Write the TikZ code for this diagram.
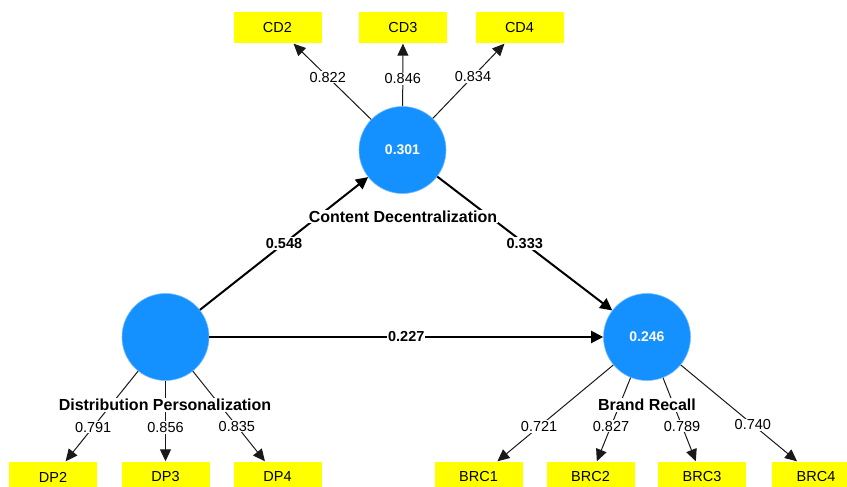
\documentclass[tikz,border=0pt]{standalone}
\usepackage{fontspec}
\setmainfont{Liberation Sans}
\usetikzlibrary{arrows.meta}
\definecolor{lvblue}{RGB}{20,144,255}
\definecolor{mvyellow}{RGB}{255,255,0}
\begin{document}
\begin{tikzpicture}[x=1pt,y=-1pt,
 lv/.style={circle,fill=lvblue,draw=lvblue!60,line width=0.6pt,minimum size=87pt,inner sep=0pt,text=white,font=\fontsize{14}{16}\selectfont\bfseries},
 mv/.style={rectangle,fill=mvyellow,minimum width=88pt,minimum height=31pt,inner sep=0pt,text=black,font=\fontsize{14.5}{16}\selectfont},
 load/.style={line width=1pt,draw=black!90,-{Triangle[length=12pt,width=11pt]}},
 pathe/.style={line width=2pt,-{Triangle[length=12pt,width=12pt]}},
 lval/.style={fill=white,inner sep=1pt,text=black,font=\fontsize{14.5}{16}\selectfont},
 pval/.style={fill=white,inner sep=1pt,text=black,font=\fontsize{14.5}{16}\selectfont\bfseries},
 lvname/.style={fill=white,inner sep=1pt,text=black,font=\fontsize{16}{18}\selectfont\bfseries}]
\useasboundingbox (0,0) rectangle (847,487);
\clip (0,0) rectangle (847,487);
\node[lv] (cd) at (402.5,150) {0.301};
\node[lv] (dp) at (165.5,337) {};
\node[lv] (brc) at (647,337) {0.246};
\node[mv] (cd2) at (277.5,28) {CD2};
\node[mv] (cd3) at (403,28) {CD3};
\node[mv] (cd4) at (519.5,28) {CD4};
\node[mv] (dp2) at (53,477) {DP2};
\node[mv] (dp3) at (165.5,477) {DP3};
\node[mv] (dp4) at (277.5,477) {DP4};
\node[mv] (brc1) at (478.5,477) {BRC1};
\node[mv] (brc2) at (590.5,477) {BRC2};
\node[mv] (brc3) at (702,477) {BRC3};
\node[mv] (brc4) at (816,477) {BRC4};
\draw[load] (cd) -- node[lval,pos=0.56]{0.822} (cd2);
\draw[load] (cd) -- node[lval,pos=0.44]{0.846} (cd3);
\draw[load] (cd) -- node[lval,pos=0.56]{0.834} (cd4);
\draw[load] (dp) -- node[lval,pos=0.62]{0.791} (dp2);
\draw[load] (dp) -- node[lval,pos=0.58]{0.856} (dp3);
\draw[load] (dp) -- node[lval,pos=0.61]{0.835} (dp4);
\draw[load] (brc) -- node[lval,pos=0.64]{0.721} (brc1);
\draw[load] (brc) -- node[lval,pos=0.58]{0.827} (brc2);
\draw[load] (brc) -- node[lval,pos=0.58]{0.789} (brc3);
\draw[load] (brc) -- node[lval,pos=0.62]{0.740} (brc4);
\draw[pathe] (dp) -- node[pval]{0.548} (cd);
\draw[pathe] (cd) -- node[pval]{0.333} (brc);
\draw[pathe] (dp) -- node[pval]{0.227} (brc);
\node[lvname] (cdn) at (403,216.5) {Content Decentralization};
\node[lvname] (dpn) at (165,405) {Distribution Personalization};
\node[lvname] (brcn) at (647,405) {Brand Recall};
\end{tikzpicture}
\end{document}
